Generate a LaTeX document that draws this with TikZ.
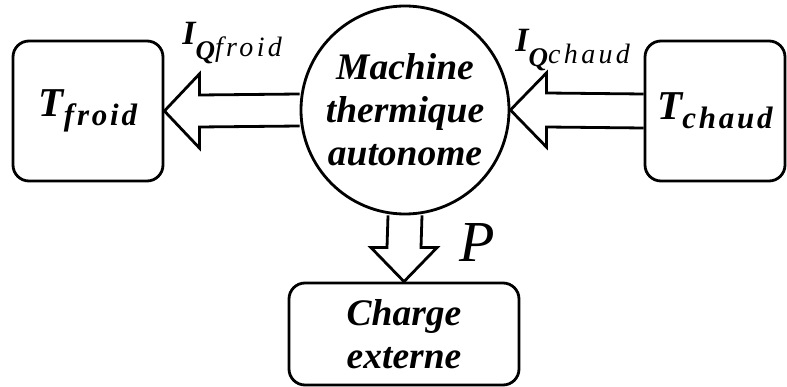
\documentclass[tikz,border=0pt]{standalone}
\usepackage{fontspec}
\setmainfont{Liberation Serif}
\usetikzlibrary{positioning,calc,backgrounds}

% temperature and heat flow labels
\newcommand{\temp}[1]{{\bfseries\itshape\fontsize{41}{41}\selectfont T\raisebox{-9pt}{\fontsize{31}{31}\selectfont\addfontfeatures{LetterSpace=9}#1}}}
\newcommand{\flux}[1]{{\bfseries\itshape\fontsize{34}{34}\selectfont I\raisebox{-15pt}{\fontsize{27}{27}\selectfont Q}\raisebox{-12pt}{\mdseries\fontsize{28}{28}\selectfont\addfontfeatures{LetterSpace=12}#1}}}

\begin{document}
\begin{tikzpicture}[
    x=1pt, y=-1pt,
    line width=2.8pt,
    block/.style={
        draw,
        rounded corners=16pt,
        align=center,
        inner sep=0pt
    },
    machine/.style={
        draw,
        circle,
        minimum size=208pt,
        align=center,
        inner sep=0pt
    },
    flow/.style={
        draw,
        fill=white,
        line width=2.8pt,
        line join=miter
    },
    lbl/.style={
        inner sep=0pt,
        anchor=base west
    },
    bigtext/.style={
        font=\fontsize{37.5}{43}\selectfont\bfseries\itshape
    }
]
\useasboundingbox (0,0) rectangle (787,387);

% Reservoirs and engine
\node[block, minimum width=150pt, minimum height=140pt] (froid) at (88,111) {\temp{froid}};
\node[block, minimum width=140pt, minimum height=140pt] (chaud) at (715,111) {\temp{chaud}};
\node[machine, bigtext] (moteur) at (405,110) {Machine\\thermique\\autonome};
\node[block, bigtext, minimum width=230pt, minimum height=102pt] (charge) at (404,334) {Charge\\externe};

% Flow labels
\node[lbl] (qfroid) at (181,45) {\flux{froid}};
\node[lbl] (qchaud) at (514,52) {\flux{chaud}};
\node[lbl, font=\fontsize{58}{58}\selectfont\itshape] (puiss) at (458,262) {P};

% Hollow arrows
\begin{scope}[on background layer]
\draw[flow] ([yshift=16pt]moteur.west) -- ([xshift=35pt,yshift=16pt]froid.east)
    -- ([xshift=35pt,yshift=37pt]froid.east) -- (froid.east)
    -- ([xshift=35pt,yshift=-37pt]froid.east) -- ([xshift=35pt,yshift=-16pt]froid.east)
    -- ([yshift=-16pt]moteur.west);
\draw[flow] ([yshift=17pt]chaud.west) -- ([xshift=36pt,yshift=17pt]moteur.east)
    -- ([xshift=36pt,yshift=37pt]moteur.east) -- (moteur.east)
    -- ([xshift=36pt,yshift=-37pt]moteur.east) -- ([xshift=36pt,yshift=-17pt]moteur.east)
    -- ([yshift=-17pt]chaud.west);
\draw[flow] ([xshift=-17pt]moteur.south) -- ([xshift=-17pt,yshift=34pt]charge.north)
    -- ([xshift=-33pt,yshift=34pt]charge.north) -- (charge.north)
    -- ([xshift=33pt,yshift=34pt]charge.north) -- ([xshift=17pt,yshift=34pt]charge.north)
    -- ([xshift=17pt]moteur.south);
\end{scope}

\end{tikzpicture}
\end{document}
